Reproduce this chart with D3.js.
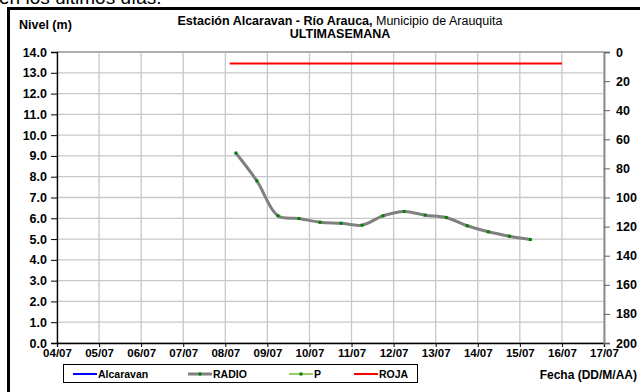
<!DOCTYPE html>
<html><head><meta charset="utf-8">
<script src="https://cdn.jsdelivr.net/npm/d3@7"></script>
<style>
html,body{margin:0;padding:0;background:#fff;}
svg{display:block;font-family:"Liberation Sans",Arial,sans-serif;}
</style></head><body>
<svg id="c" width="640" height="392"></svg>
<script>
// ---- data ----
const xTickLabels = ["04/07","05/07","06/07","07/07","08/07","09/07","10/07","11/07","12/07","13/07","14/07","15/07","16/07","17/07"];
const leftTicks = [0,1,2,3,4,5,6,7,8,9,10,11,12,13,14];
const rightTicks = [0,20,40,60,80,100,120,140,160,180,200];
const radioTimes = ["08/07 06:00","08/07 18:00","09/07 06:00","09/07 18:00","10/07 06:00","10/07 18:00","11/07 06:00","11/07 18:00","12/07 06:00","12/07 18:00","13/07 06:00","13/07 18:00","14/07 06:00","14/07 18:00","15/07 06:00"];
const radioValues = [9.14,7.80,6.12,5.99,5.81,5.76,5.67,6.12,6.33,6.15,6.04,5.64,5.35,5.14,4.98];
const rojaTimes = ["08/07 02:30","16/07 00:00"];
const rojaValues = [13.45,13.45];
const legendItems = ["Alcaravan","RADIO","P","ROJA"];

const parse = d3.timeParse("%d/%m %H:%M");
const svg = d3.select("#c");
const L=57, R=604, T=52, B=343;

// outer frame
svg.append("text").attr("x",-1).attr("y",4).attr("font-size",19).attr("fill","#000").text("en los últimos días.");
svg.append("rect").attr("x",8.5).attr("y",8.5).attr("width",640).attr("height",390).attr("fill","#fff").attr("stroke","#000").attr("stroke-width",3);

const x = d3.scaleTime().domain([parse(xTickLabels[0]+" 00:00"), parse(xTickLabels[xTickLabels.length-1]+" 00:00")]).range([L,R]);
const y = d3.scaleLinear().domain([0,14]).range([B,T]);
const y2 = d3.scaleLinear().domain([0,200]).range([T,B]);
const xTicks = xTickLabels.map(s=>parse(s+" 00:00"));

// grid
const g = svg.append("g");
g.selectAll(".hg").data(leftTicks).join("line")
  .attr("x1",L).attr("x2",R).attr("y1",d=>y(d)).attr("y2",d=>y(d))
  .attr("stroke","#c8c8c8").attr("stroke-width",1.3);
g.selectAll(".vg").data(xTicks).join("line")
  .attr("x1",d=>x(d)).attr("x2",d=>x(d)).attr("y1",T).attr("y2",B)
  .attr("stroke","#c8c8c8").attr("stroke-width",1.3);
svg.append("line").attr("x1",L).attr("x2",R).attr("y1",T).attr("y2",T).attr("stroke","#a0a0a0").attr("stroke-width",1.3);

// axes
const fmt = d3.timeFormat("%d/%m");
const ax = svg.append("g").attr("transform",`translate(0,${B})`)
  .call(d3.axisBottom(x).tickValues(xTicks).tickFormat(fmt).tickSize(4).tickPadding(2));
const ay = svg.append("g").attr("transform",`translate(${L},0)`)
  .call(d3.axisLeft(y).tickValues(leftTicks).tickFormat(d3.format(".1f")).tickSize(6).tickPadding(4));
const ay2 = svg.append("g").attr("transform",`translate(${R},0)`)
  .call(d3.axisRight(y2).tickValues(rightTicks).tickSize(6).tickPadding(6));
[ax,ay,ay2].forEach(a=>{
  a.selectAll("text").attr("font-weight","bold").attr("fill","#000").attr("font-family","'Liberation Sans',Arial,sans-serif");
  a.selectAll("line").attr("stroke","#000");
  a.select(".domain").attr("stroke","#000").attr("stroke-width",1.3);
});
ax.selectAll("text").attr("font-size",11.5);
ay.selectAll("text").attr("font-size",12.5);
ay2.selectAll("text").attr("font-size",12.5);
ay2.select(".domain").attr("stroke","#909090").attr("stroke-width",2);
ay2.selectAll("line").attr("stroke","#606060");

// roja
const line = d3.line().x(d=>x(d.t)).y(d=>y(d.v));
const roja = rojaTimes.map((t,i)=>({t:parse(t),v:rojaValues[i]}));
svg.append("path").datum(roja).attr("d",line).attr("fill","none").attr("stroke","#ff0000").attr("stroke-width",2);

// radio
const radio = radioTimes.map((t,i)=>({t:parse(t),v:radioValues[i]}));
svg.append("path").datum(radio).attr("d",line.curve(d3.curveCatmullRom.alpha(0.5)))
  .attr("fill","none").attr("stroke","#808080").attr("stroke-width",3);
svg.selectAll(".pt").data(radio).join("rect")
  .attr("x",d=>x(d.t)-1.5).attr("y",d=>y(d.v)-1.5).attr("width",3).attr("height",3).attr("fill","#008000");

// titles
const t1 = svg.append("text").attr("x",340).attr("y",25).attr("text-anchor","middle").attr("font-size",12.5);
t1.append("tspan").attr("font-weight","bold").text("Estación Alcaravan - Río Arauca,");
t1.append("tspan").text(" Municipio de Arauquita");
svg.append("text").attr("x",340).attr("y",38).attr("text-anchor","middle").attr("font-size",12.5).attr("font-weight","bold").text("ULTIMASEMANA");
svg.append("text").attr("x",19).attr("y",29).attr("font-size",12.5).attr("font-weight","bold").text("Nivel (m)");
svg.append("text").attr("x",637).attr("y",379).attr("text-anchor","end").attr("font-size",12).attr("font-weight","bold").text("Fecha (DD/M/AA)");

// legend
const lg = svg.append("g");
lg.append("rect").attr("x",63.5).attr("y",364.5).attr("width",354).attr("height",18).attr("fill","#fff").attr("stroke","#000").attr("stroke-width",1);
const lgX = [73,188,289,354];
const lgC = ["#0000ff","#808080","#99cc66","#ff0000"];
const items = lg.selectAll(".li").data(legendItems).join("g").attr("transform",(d,i)=>`translate(${lgX[i]},374)`);
items.append("line").attr("x1",0).attr("x2",24).attr("y1",0).attr("y2",0).attr("stroke",(d,i)=>lgC[i]).attr("stroke-width",(d,i)=>i==1?3:2);
items.filter((d,i)=>i==1||i==2).append("rect").attr("x",10.5).attr("y",-1.5).attr("width",3).attr("height",3).attr("fill","#008000");
items.append("text").attr("x",25).attr("y",4).attr("font-size",10.5).attr("font-weight","bold").text(d=>d);
</script>
</body></html>
